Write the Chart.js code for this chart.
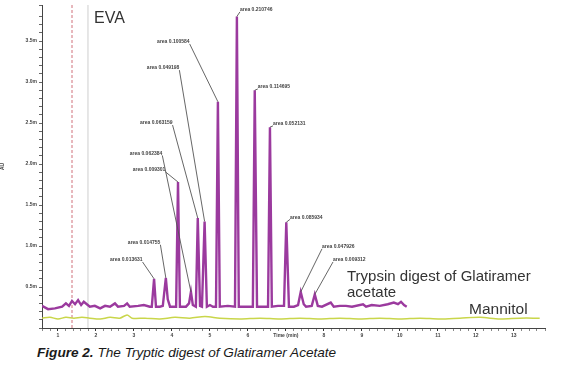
<!DOCTYPE html>
<html><head><meta charset="utf-8">
<script src="https://cdn.jsdelivr.net/npm/chart.js@4"></script>
<style>
html,body{margin:0;padding:0;background:#fff;width:573px;height:367px;overflow:hidden;}
#wrap{position:relative;width:573px;height:367px;}
canvas{position:absolute;left:0;top:0;}
.t{position:absolute;font-family:"Liberation Sans",Arial,sans-serif;color:#333;white-space:nowrap;}
</style></head>
<body><div id="wrap">
<canvas id="c" width="573" height="345"></canvas>
<div class="t" style="left:94px;top:9px;font-size:16px;">EVA</div>
<div class="t" style="left:347px;top:268px;font-size:15px;line-height:16px;">Trypsin digest of Glatiramer<br>acetate</div>
<div class="t" style="left:469px;top:300px;font-size:15.5px;">Mannitol</div>
<div class="t" style="left:37px;top:345px;font-size:13.6px;font-style:italic;color:#1a1a1a;"><b>Figure 2.</b> The Tryptic digest of Glatiramer Acetate</div>
</div>
<script>
// ---- data (time in min, absorbance) ----
const purpleT = [0.58,0.74,0.92,1.11,1.21,1.29,1.37,1.45,1.53,1.61,1.68,1.76,1.84,1.97,2.11,2.24,2.37,2.50,2.58,2.74,2.82,2.89,3.11,3.26,3.42,
  3.47,3.53,3.58,3.68,3.76,3.84,3.89,3.95,4.05,4.11,4.16,4.21,4.37,4.45,4.50,4.55,4.63,4.68,4.74,4.79,4.86,4.92,5.00,5.08,
  5.16,5.21,5.26,5.47,5.66,5.71,5.76,5.92,6.13,6.18,6.24,6.53,6.58,6.63,6.79,6.95,7.01,7.08,7.21,7.32,7.39,7.47,7.53,
  7.68,7.76,7.84,7.95,8.18,8.26,8.42,8.58,8.74,9.03,9.11,9.26,9.47,9.68,9.84,9.95,10.03,10.11,10.18];
const purpleV = [0.27,0.23,0.24,0.26,0.30,0.27,0.33,0.29,0.34,0.28,0.32,0.29,0.26,0.27,0.24,0.27,0.26,0.30,0.26,0.27,0.30,0.26,0.27,0.28,0.26,
  0.26,0.60,0.26,0.26,0.27,0.61,0.35,0.26,0.26,0.26,1.78,0.26,0.26,0.30,0.44,0.28,0.26,1.34,0.27,0.26,1.30,0.26,0.28,0.26,
  0.26,2.76,0.26,0.27,0.26,3.80,0.26,0.26,0.26,2.90,0.26,0.26,2.45,0.26,0.27,0.27,1.29,0.26,0.26,0.28,0.44,0.29,0.26,
  0.27,0.41,0.27,0.26,0.31,0.26,0.27,0.27,0.26,0.29,0.26,0.28,0.27,0.29,0.31,0.29,0.32,0.28,0.26];
const greenT = [0.58,0.79,1.00,1.21,1.42,1.63,1.84,2.11,2.37,2.63,2.82,2.95,3.29,3.68,4.08,4.47,4.87,5.26,5.79,6.32,6.84,7.37,7.89,8.42,8.95,9.47,10.0,10.53,11.05,11.58,12.11,12.63,13.16,13.68];
const greenV = [0.12,0.13,0.11,0.13,0.12,0.13,0.12,0.11,0.13,0.12,0.16,0.12,0.12,0.11,0.13,0.12,0.14,0.12,0.11,0.12,0.11,0.12,0.11,0.12,0.11,0.12,0.11,0.12,0.11,0.12,0.13,0.11,0.12,0.12];
// peak annotations
const peakT = [3.53,3.84,4.16,4.50,4.68,4.86,5.21,5.71,6.18,6.58,7.01,7.39,7.76];
const peakV = [0.60,0.61,1.78,0.44,1.34,1.30,2.76,3.80,2.90,2.45,1.29,0.44,0.41];
const peakLabels = ["area 0.013631","area 0.014755","area 0.009301","area 0.062384","area 0.063159","area 0.049198","area 0.100584",
  "area 0.210746","area 0.114695","area 0.052131","area 0.085934","area 0.047926","area 0.009312"];
const labelT = [2.37,2.84,2.97,2.89,3.16,3.34,3.61,5.79,6.26,6.66,7.11,7.95,8.24];
const labelV = [0.83,1.04,1.93,2.13,2.50,3.17,3.49,3.88,2.94,2.49,1.35,0.99,0.83];
const markerT = [1.37,1.79];

const isInt = v => Math.abs(v - Math.round(v)) < 1e-6;

const annot = {
  id:'annot',
  beforeDatasetsDraw(chart){
    const {ctx, chartArea:a, scales:{x}} = chart;
    ctx.save();
    ctx.lineWidth = 1;
    ctx.strokeStyle = '#d0707a'; ctx.setLineDash([3,2]);
    let px = x.getPixelForValue(markerT[0]);
    ctx.beginPath(); ctx.moveTo(px,a.top); ctx.lineTo(px,a.bottom); ctx.stroke();
    ctx.setLineDash([]); ctx.strokeStyle = '#cfcfcf';
    px = x.getPixelForValue(markerT[1]);
    ctx.beginPath(); ctx.moveTo(px,a.top); ctx.lineTo(px,a.bottom); ctx.stroke();
    ctx.restore();
  },
  afterDatasetsDraw(chart){
    const {ctx, scales:{x,y}} = chart;
    ctx.save();
    ctx.font = 'bold 5px "Liberation Sans", Arial, sans-serif';
    ctx.fillStyle = '#444'; ctx.strokeStyle = '#555'; ctx.lineWidth = 0.9;
    ctx.textBaseline = 'middle';
    peakLabels.forEach((s,i)=>{
      const lx = x.getPixelForValue(labelT[i]), ly = y.getPixelForValue(labelV[i]);
      const w = ctx.measureText(s).width;
      ctx.fillText(s, lx, ly);
      const px = x.getPixelForValue(peakT[i]), py = y.getPixelForValue(peakV[i]);
      let sx = (px > lx + w/2) ? lx + w : lx;
      if (px < lx) sx = lx;
      ctx.beginPath(); ctx.moveTo(sx, ly + 2); ctx.lineTo(px, py); ctx.stroke();
    });
    ctx.restore();
  }
};

new Chart(document.getElementById('c'), {
  type:'line',
  data:{datasets:[
    {label:'Trypsin digest', data: purpleT.map((t,i)=>({x:t,y:purpleV[i]})), borderColor:'#9b3a9e', borderWidth:2.4, pointRadius:0, tension:0},
    {label:'Mannitol', data: greenT.map((t,i)=>({x:t,y:greenV[i]})), borderColor:'#c9d64a', borderWidth:1.5, pointRadius:0, tension:0.3}
  ]},
  options:{
    responsive:false, animation:false,
    layout:{padding:{top:5,right:28,left:0,bottom:0}},
    plugins:{legend:{display:false}, tooltip:{enabled:false}},
    scales:{
      x:{type:'linear', min:0.58, max:13.82,
        afterFit(s){ s.height = 17; },
        border:{color:'#444'},
        grid:{drawOnChartArea:false, tickLength:3, tickColor:ctx=>isInt(ctx.tick.value)?'#333':'#888'},
        ticks:{stepSize:0.2, autoSkip:false, maxRotation:0, padding:2, color:'#444',
          font:{size:5, weight:'bold', family:'"Liberation Sans", Arial'},
          callback:v=> isInt(v) ? (Math.round(v)===7 ? 'Time (min)' : String(Math.round(v))) : ''}},
      y:{type:'linear', min:0, max:3.94,
        afterFit(s){ s.width = 42; },
        border:{color:'#444'},
        title:{display:true, text:'AU', font:{size:5, weight:'bold'}, color:'#444', padding:0},
        grid:{drawOnChartArea:false, tickLength:3, tickColor:ctx=>'#666'},
        ticks:{stepSize:0.1, autoSkip:false, padding:2, color:'#444',
          font:{size:5, weight:'bold', family:'"Liberation Sans", Arial'},
          callback:v=>{ const r=Math.round(v*10); return (r>0 && r%5===0) ? (r/10).toFixed(1)+'m' : ''; }}}
    }
  },
  plugins:[annot]
});
</script>
</body></html>
